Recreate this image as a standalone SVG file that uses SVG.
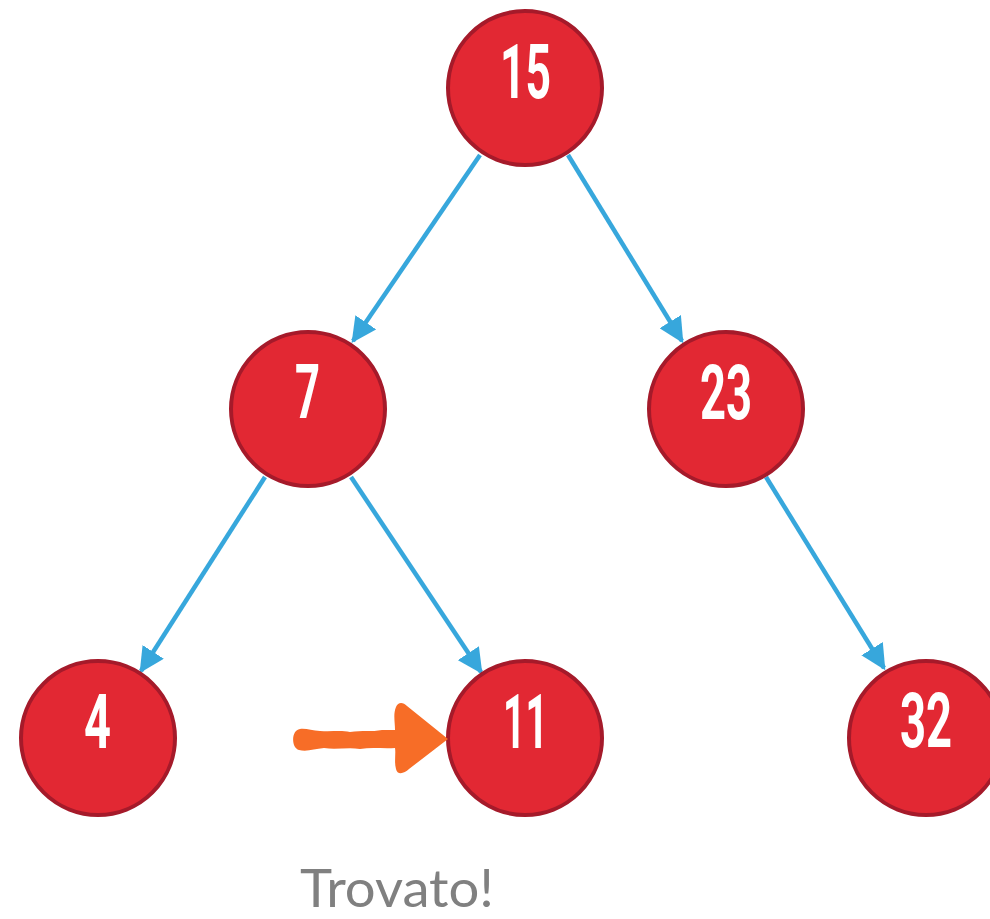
<svg xmlns="http://www.w3.org/2000/svg" width="990" height="919" viewBox="0 0 990 919">
<defs>
<style>
.node circle{fill:#e22833;stroke:#a51a2a;stroke-width:4}
.node text{fill:#fff;font-family:Roboto,"Liberation Sans",Arial,sans-serif;font-weight:700;font-size:76px;text-anchor:middle}
.edge{stroke:#37a7dc;stroke-width:4.5;fill:none;marker-end:url(#ah)}
.lbl{fill:#808080;font-family:Lato,"Open Sans",sans-serif;font-size:52px}
</style>
<marker id="ah" viewBox="0 0 10 10" refX="9" refY="5" markerWidth="5.6" markerHeight="5.6" orient="auto" markerUnits="strokeWidth">
<path d="M0,0 L10,5 L0,10 z" fill="#37a7dc"/>
</marker>
</defs>
<g id="connectors">
<line class="edge" x1="480" y1="155" x2="353" y2="341"/>
<line class="edge" x1="568" y1="155" x2="682" y2="341"/>
<line class="edge" x1="265" y1="477" x2="141" y2="671"/>
<line class="edge" x1="351" y1="477" x2="481" y2="672"/>
<line class="edge" x1="766" y1="477" x2="884" y2="668"/>
</g>
<g id="n15" class="node"><circle cx="525" cy="88" r="77"/><text x="525.5" y="98" textLength="51" lengthAdjust="spacingAndGlyphs">15</text></g>
<g id="n7" class="node"><circle cx="308" cy="409" r="77"/><text x="307.5" y="418" textLength="25" lengthAdjust="spacingAndGlyphs">7</text></g>
<g id="n23" class="node"><circle cx="726" cy="409" r="77"/><text x="726" y="419" textLength="52" lengthAdjust="spacingAndGlyphs">23</text></g>
<g id="n4" class="node"><circle cx="98" cy="738" r="77"/><text x="97.5" y="748" textLength="27" lengthAdjust="spacingAndGlyphs">4</text></g>
<g id="n11" class="node"><circle cx="525" cy="738" r="77"/><text x="525.5" y="748" textLength="45" lengthAdjust="spacingAndGlyphs">11</text></g>
<g id="n32" class="node"><circle cx="926" cy="738" r="77"/><text x="926" y="747" textLength="52" lengthAdjust="spacingAndGlyphs">32</text></g>
<g id="pointer">
<path d="M300,729 C306,728 312,731 320,731 C332,732 340,730 350,732 C362,730 372,732 382,730 L395,730 C395,722 393,714 396,707 C398,702 403,702 407,706 L448,739 L409,769 C404,774 397,775 396,769 C394,762 396,754 395,748 C384,749 372,747 360,749 C348,747 336,750 324,748 C314,749 307,752 299,750 C291,748 291,730 300,729 z" fill="#f76d27"/>
</g>
<text class="lbl" x="300" y="907" textLength="194" lengthAdjust="spacingAndGlyphs">Trovato!</text>
</svg>
